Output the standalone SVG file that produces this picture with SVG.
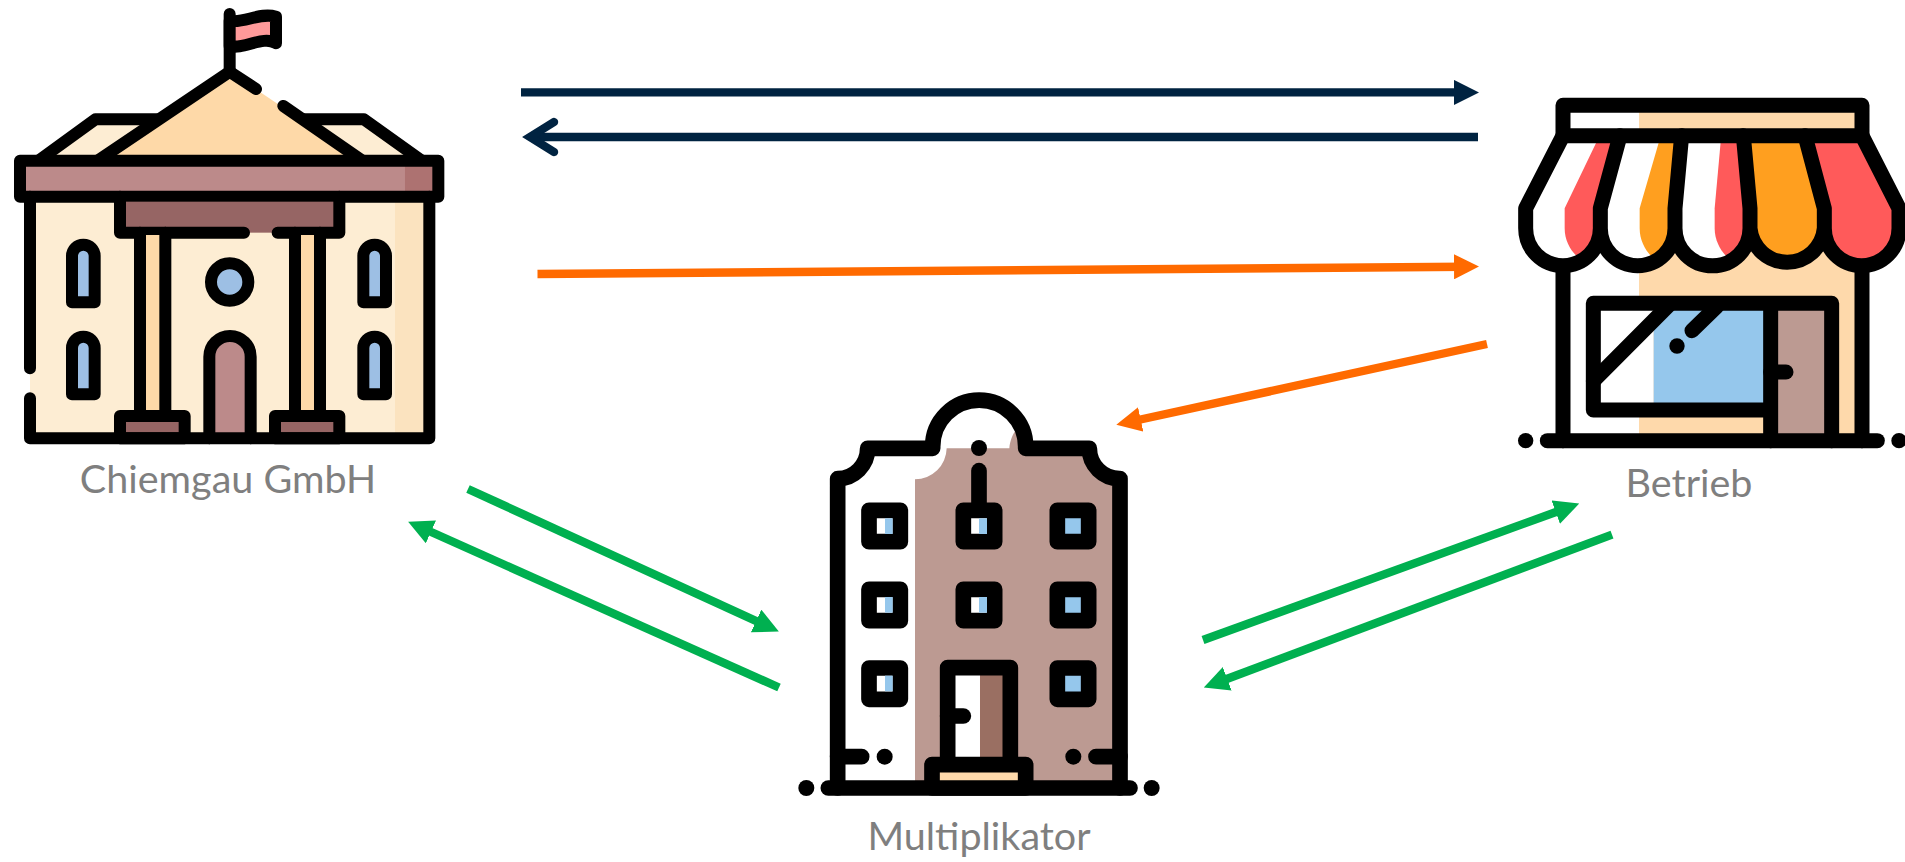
<svg xmlns="http://www.w3.org/2000/svg" width="1905" height="862" viewBox="0 0 1905 862">
<style>
.k{stroke:#000;stroke-linecap:round;stroke-linejoin:round;fill:none}
.c1{stroke-width:36}.c2{stroke-width:45}.c3{stroke-width:47}
.d{fill:#000}
.lbl{font-family:"Lato","Liberation Sans",sans-serif;font-size:39.5px;fill:#7f7f7f;text-anchor:middle}
.a{fill:none;stroke-width:8.4}
.sb{fill:#95c7ec}
</style>
<defs>
<marker id="hNavy" markerUnits="userSpaceOnUse" markerWidth="25" markerHeight="25" viewBox="0 0 25 25" refX="12" refY="12.5" orient="auto"><path d="M0,0L25,12.5L0,25Z" fill="#002341"/></marker>
<marker id="hOrange" markerUnits="userSpaceOnUse" markerWidth="25" markerHeight="25" viewBox="0 0 25 25" refX="12" refY="12.5" orient="auto"><path d="M0,0L25,12.5L0,25Z" fill="#ff6a00"/></marker>
<marker id="hGreen" markerUnits="userSpaceOnUse" markerWidth="25" markerHeight="25" viewBox="0 0 25 25" refX="12" refY="12.5" orient="auto"><path d="M0,0L25,12.5L0,25Z" fill="#00b050"/></marker>
</defs>
<g id="connectors">
<line class="a" x1="521" y1="92.4" x2="1466" y2="92.4" stroke="#002341" marker-end="url(#hNavy)"/>
<line class="a" x1="1478" y1="137" x2="530" y2="137" stroke="#002341"/>
<polyline points="554,122 530,137 554,152" fill="none" stroke="#002341" stroke-width="8.4" stroke-linecap="round" stroke-linejoin="miter"/>
<line class="a" x1="537.5" y1="274" x2="1466" y2="266.7" stroke="#ff6a00" marker-end="url(#hOrange)"/>
<line class="a" x1="1487" y1="344" x2="1129" y2="422" stroke="#ff6a00" marker-end="url(#hOrange)"/>
<line class="a" x1="468" y1="489" x2="767" y2="626" stroke="#00b050" marker-end="url(#hGreen)"/>
<line class="a" x1="779" y1="687.5" x2="420" y2="527" stroke="#00b050" marker-end="url(#hGreen)"/>
<line class="a" x1="1203" y1="640" x2="1567" y2="508" stroke="#00b050" marker-end="url(#hGreen)"/>
<line class="a" x1="1612" y1="534.6" x2="1216" y2="683" stroke="#00b050" marker-end="url(#hGreen)"/>
</g>
<g id="chiemgau">
<g transform="scale(.33333)">
<rect x="90" y="590" width="1198" height="725" fill="#fdedd3"/>
<rect x="1185" y="590" width="103" height="725" fill="#fbe3bf"/>
<path d="M118,480L286,358H470L320,480Z" fill="#fdedd3"/>
<path d="M1262,480L1092,358H910L1060,480Z" fill="#fdedd3"/>
<path d="M118,480L286,358H470M1262,480L1092,358H910" class="k c1"/>
<path d="M689,42V205" class="k c1"/>
<path d="M689,62C730,72 780,35 828,50V130C790,105 730,150 689,138Z" class="k c1" style="fill:#ff9a9a"/>
<path d="M689,215L1084,480H296Z" fill="#fed9a8"/>
<path d="M296,480L689,215L768,267M850,318L1084,480" class="k c1"/>
<rect x="60" y="482" width="1255" height="108" fill="#bc8a8a"/>
<rect x="1215" y="482" width="100" height="108" fill="#ad7271"/>
<rect x="60" y="482" width="1255" height="108" class="k c1"/>
<rect x="360" y="605" width="658" height="93" fill="#966564"/>
<path d="M360,590V698H732M833,698H1018V590" class="k c1"/>
<rect x="420" y="705" width="76" height="543" fill="#fed9a8"/>
<rect x="885" y="705" width="75" height="543" fill="#fed9a8"/>
<path d="M420,698V1248M496,698V1248M885,698V1248M960,698V1248" class="k c1"/>
<rect x="360" y="1248" width="194" height="67" class="k c1" style="fill:#966564"/>
<rect x="825" y="1248" width="193" height="67" class="k c1" style="fill:#966564"/>
<circle cx="689" cy="846" r="56" class="k c1" style="fill:#9dbfe4"/>
<path d="M628,1315V1070A62,62 0 0 1 752,1070V1315" class="k c1" style="fill:#bc8a8a"/>
<path d="M90,590V1105M90,1195V1315H1288V590" class="k c1"/>
<path d="M216,907V768A34,34 0 0 1 284,768V907Z" class="k c1" style="fill:#9dbfe4"/>
<path d="M216,1183V1044A34,34 0 0 1 284,1044V1183Z" class="k c1" style="fill:#9dbfe4"/>
<path d="M1090,907V768A34,34 0 0 1 1158,768V907Z" class="k c1" style="fill:#9dbfe4"/>
<path d="M1090,1183V1044A34,34 0 0 1 1158,1044V1183Z" class="k c1" style="fill:#9dbfe4"/>
</g>
<text class="lbl" x="228" y="493">Chiemgau GmbH</text>
</g>
<g id="betrieb">
<g transform="translate(1490,80) scale(.33333)">
<rect x="219" y="76" width="228" height="91" fill="#fff"/>
<rect x="447" y="76" width="669" height="91" fill="#fed9ab"/>
<rect x="447" y="500" width="669" height="582" fill="#fed9ab"/>
<rect x="310" y="670" width="181" height="320" fill="#fff"/>
<rect x="491" y="670" width="351" height="320" fill="#95c7ec"/>
<rect x="842" y="670" width="183" height="412" fill="#bc9a92"/>
<path d="M219,500V1082M1116,500V1082" class="k c2"/>
<path d="M310,670H1025V1082M310,670V990H842M842,670V1082" class="k c2"/>
<path d="M842,876H888" class="k c2"/>
<path d="M310,903L540,672M606,752L680,680" class="k c2"/>
<circle cx="561" cy="798" r="23" class="d"/>
<path d="M172,1082H1162" class="k c2"/>
<circle cx="107" cy="1082" r="23" class="d"/><circle cx="1227" cy="1082" r="23" class="d"/>
<path d="M219,167H390L331,385V445A112,112 0 0 1 107,445V385Z" fill="#fff"/>
<path d="M325,175L224,385V445C224,480 240,510 262,530A112,112 0 0 0 331,445V385L385,175Z" fill="#ff5a5a"/>
<path d="M390,167H575L555,385V445A112,112 0 0 1 331,445V385Z" fill="#fff"/>
<path d="M510,175L449,385V445C449,480 465,510 485,530A112,112 0 0 0 555,445V385L572,175Z" fill="#ff9f1f"/>
<path d="M575,167H760L780,385V445A112,112 0 0 1 555,445V385Z" fill="#fff"/>
<path d="M693,175L674,385V445C674,480 690,510 710,530A112,112 0 0 0 780,445V385L760,175Z" fill="#ff5a5a"/>
<path d="M760,167H945L1003,385V445A112,112 0 0 1 780,445V385Z" fill="#ff9f1f"/>
<path d="M945,167H1116L1227,385V445A112,112 0 0 1 1003,445V385Z" fill="#ff5a5a"/>
<path d="M219,167L107,385V445A112,112 0 0 0 331,445V385L390,167M331,445A112,112 0 0 0 555,445V385L575,167M555,445A112,112 0 0 0 780,445V385L760,167M780,445A112,112 0 0 0 1003,445V385L945,167M1003,445A112,112 0 0 0 1227,445V385L1116,167" class="k c2"/>
<rect x="219" y="76" width="897" height="91" class="k c2"/>
</g>
<text class="lbl" x="1689" y="497">Betrieb</text>
</g>
<g id="multiplikator">
<g transform="translate(770,380) scale(.33333)">
<path d="M203,1224V296A91,91 0 0 0 293,205H488V200A139.5,139.5 0 0 1 767,200V205H958A91,91 0 0 0 1050,296V1224Z" fill="#fff"/>
<path d="M435,1224V298A95,95 0 0 0 530,205H718C720,180 730,160 738,150L767,205H958A91,91 0 0 0 1050,296V1224Z" fill="#bc9a92"/>
<path d="M203,1224V296A91,91 0 0 0 293,205H488V200A139.5,139.5 0 0 1 767,200V205H958A91,91 0 0 0 1050,296V1224" class="k c3"/>
<path d="M175,1224H1080" class="k c3"/>
<circle cx="109" cy="1224" r="24" class="d"/><circle cx="1145" cy="1224" r="24" class="d"/>
<circle cx="627" cy="204" r="24" class="d"/>
<path d="M627,272V380" class="k c3"/>
<g class="k c3">
<rect x="297" y="391" width="94" height="94" style="fill:#fff"/>
<rect x="580" y="391" width="94" height="94" style="fill:#fff"/>
<rect x="862" y="391" width="94" height="94" style="fill:#95c7ec"/>
<rect x="297" y="628" width="94" height="94" style="fill:#fff"/>
<rect x="580" y="628" width="94" height="94" style="fill:#fff"/>
<rect x="862" y="628" width="94" height="94" style="fill:#95c7ec"/>
<rect x="297" y="864" width="94" height="94" style="fill:#fff"/>
<rect x="862" y="864" width="94" height="94" style="fill:#95c7ec"/>
</g>
<rect x="345" y="415" width="23" height="47" class="sb"/>
<rect x="627" y="415" width="24" height="47" class="sb"/>
<rect x="345" y="651" width="23" height="47" class="sb"/>
<rect x="627" y="651" width="24" height="47" class="sb"/>
<rect x="345" y="887" width="23" height="47" class="sb"/>
<rect x="533" y="863" width="97" height="290" fill="#fff"/>
<rect x="630" y="863" width="91" height="290" fill="#9a6f62"/>
<path d="M533,1154V863H721V1154" class="k c3"/>
<path d="M533,1008H580" class="k c3"/>
<rect x="486" y="1154" width="281" height="70" class="k c3" style="fill:#fed9ab"/>
<path d="M203,1130H275M978,1130H1050" class="k c3"/>
<circle cx="344" cy="1130" r="24" class="d"/><circle cx="910" cy="1130" r="24" class="d"/>
</g>
<text class="lbl" x="979" y="850">Multiplikator</text>
</g>
</svg>
